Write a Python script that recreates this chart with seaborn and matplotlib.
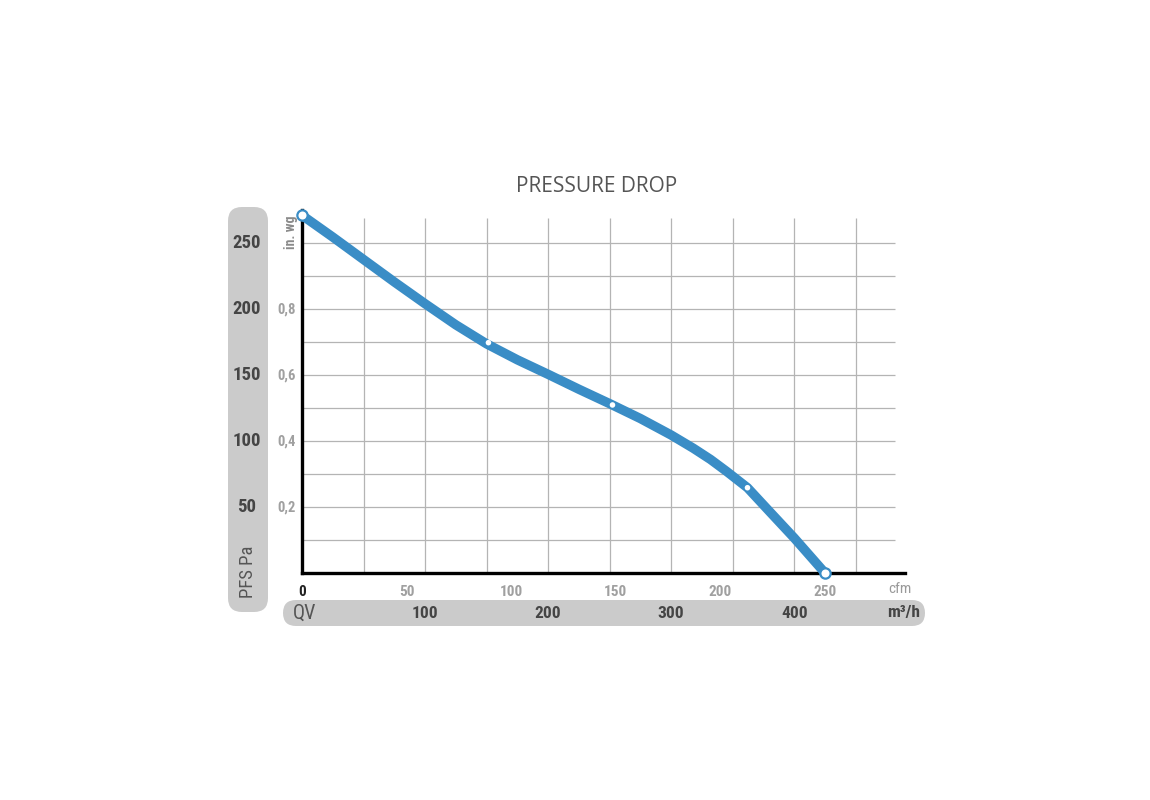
import matplotlib
matplotlib.use("Agg")
import matplotlib.pyplot as plt
from matplotlib.patches import FancyBboxPatch
from matplotlib.transforms import IdentityTransform, blended_transform_factory
import pandas as pd
import seaborn as sns

# curve: air flow (m3/h) vs pressure (Pa)
flow_m3h = [0, 25, 50, 75, 100, 125, 150, 175, 200, 225, 250, 275, 300, 318, 332,
            345, 362, 380, 400, 425]
pressure_pa = [271, 254.5, 237.5, 220.5, 204, 188, 173.6, 161.5, 150.5, 139.2, 128.3,
               117, 104.5, 94.5, 86, 77, 64.6, 46.5, 26.5, 0]

# measured points on the curve
end_flow = [0, 425]
end_pa = [271, 0]
mid_flow = [151.5, 252.3, 362]
mid_pa = [174.5, 127.3, 64.6]

# axis labels
pa_ticks = [50, 100, 150, 200, 250]
inwg_ticks = [0.2, 0.4, 0.6, 0.8]
inwg_labels = ["0,2", "0,4", "0,6", "0,8"]
cfm_ticks = [0, 50, 100, 150, 200, 250]
m3h_ticks = [100, 200, 300, 400]

PA_PER_INWG = 249.09
M3H_PER_CFM = 1.699

BLUE = "#3a8dc6"
PILL = "#cbcbcb"
GRID = "#b4b4b4"
NARROW = ["Roboto Condensed", "Liberation Sans Narrow", "DejaVu Sans"]

sns.set_style("white")

fig = plt.figure(figsize=(11.5, 8), dpi=100)
ax = fig.add_axes([302 / 1150, 227 / 800, 603 / 1150, 363 / 800])
ax.set_xlim(0, 490)
ax.set_ylim(0, 275)

# grid drawn by hand since it stops short of the axis ends
ax.hlines(range(25, 251, 25), 0, 482, color=GRID, lw=0.9, zorder=1)
ax.vlines(range(50, 451, 50), 0, 269, color=GRID, lw=0.9, zorder=1)

curve = pd.DataFrame({"flow": flow_m3h, "pa": pressure_pa})
sns.lineplot(data=curve, x="flow", y="pa", sort=False, color=BLUE, lw=6.8,
             solid_capstyle="round", solid_joinstyle="round", clip_on=False,
             zorder=3, ax=ax)
sns.scatterplot(x=end_flow, y=end_pa, s=55, color="white", edgecolor=BLUE,
                linewidth=1.6, clip_on=False, zorder=5, ax=ax)
sns.scatterplot(x=mid_flow, y=mid_pa, s=16, color="white", edgecolor="none",
                clip_on=False, zorder=5, ax=ax)

for side in ["top", "right"]:
    ax.spines[side].set_visible(False)
for side in ["left", "bottom"]:
    ax.spines[side].set_color("black")
    ax.spines[side].set_linewidth(2.4)

ax.set_xlabel("")
ax.set_ylabel("")
ax.set_yticks([])
ax.set_xticks([c * M3H_PER_CFM for c in cfm_ticks])
ax.set_xticklabels([str(c) for c in cfm_ticks], family=NARROW,
                   fontweight="bold", fontsize=11, color="#a0a0a0")
ax.get_xticklabels()[0].set_color("#222222")
ax.tick_params(axis="x", direction="in", length=5, width=0.9, color="#999999", pad=9)

# left pill: Pa scale
fig.patches.append(FancyBboxPatch((228, 188), 40, 405,
                                  boxstyle="round,pad=0,rounding_size=14",
                                  transform=IdentityTransform(), fc=PILL, ec="none",
                                  zorder=-1))
ytrans = blended_transform_factory(fig.transFigure, ax.transData)
for p in pa_ticks:
    fig.text(247 / 1150, p, str(p), transform=ytrans, ha="center", va="center",
             family=NARROW, fontweight="bold", fontsize=13.5, color="#454545")
fig.text(248 / 1150, (800 - 572) / 800, "PFS Pa", rotation=90,
         ha="center", va="center", family=NARROW, fontsize=13.5, color="#555555")

# in. wg scale
for v, lab in zip(inwg_ticks, inwg_labels):
    fig.text(287 / 1150, v * PA_PER_INWG, lab, transform=ytrans, ha="center",
             va="center", family=NARROW, fontweight="bold", fontsize=10.5,
             color="#a0a0a0")
fig.text(291 / 1150, (800 - 232) / 800, "in. wg", rotation=90, ha="center",
         va="center", family=NARROW, fontweight="bold", fontsize=10,
         color="#8a8a8a")

fig.text(900 / 1150, (800 - 589) / 800, "cfm", ha="center", va="center",
         family=NARROW, fontsize=11, color="#9a9a9a")

# bottom pill: m3/h scale
fig.patches.append(FancyBboxPatch((283, 174), 642, 26,
                                  boxstyle="round,pad=0,rounding_size=13",
                                  transform=IdentityTransform(), fc=PILL, ec="none",
                                  zorder=-1))
xtrans = blended_transform_factory(ax.transData, fig.transFigure)
for q in m3h_ticks:
    fig.text(q, (800 - 613) / 800, str(q), transform=xtrans, ha="center",
             va="center", family=NARROW, fontweight="bold", fontsize=12.5,
             color="#454545")
fig.text(305 / 1150, (800 - 613) / 800, "QV", ha="center", va="center",
         family=NARROW, fontsize=14.5, color="#555555")
fig.text(904 / 1150, (800 - 612) / 800, "m³/h", ha="center", va="center",
         family=NARROW, fontweight="bold", fontsize=12.5, color="#454545")

fig.text(597 / 1150, (800 - 187) / 800, "PRESSURE DROP", ha="center", va="center",
         family=["Open Sans", "DejaVu Sans"], fontsize=15, color="#555555")

fig.savefig("out.png", dpi=100)
